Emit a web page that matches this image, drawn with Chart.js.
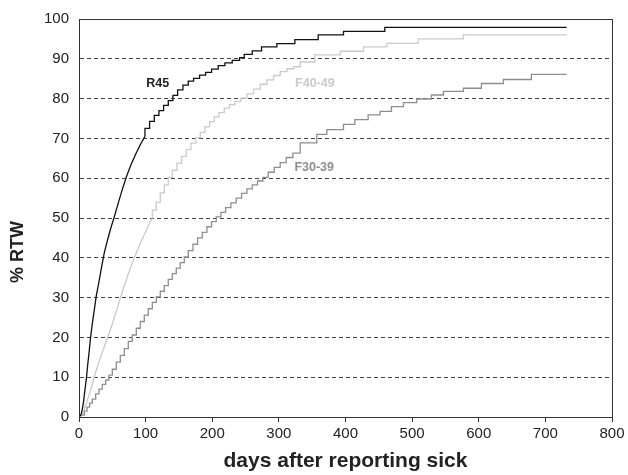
<!DOCTYPE html>
<html>
<head>
<meta charset="utf-8">
<script src="https://cdn.jsdelivr.net/npm/chart.js@4"></script>
<style>
  body { margin: 0; background: #fff; }
  #wrap { width: 628px; height: 475px; }
</style>
</head>
<body>
<div id="wrap"><canvas id="rtwChart" width="628" height="475"></canvas></div>
<script>
"use strict";

// cumulative % return to work (Kaplan-Meier style steps)
const seriesNames = ["R45", "F40-49", "F30-39"];

const r45Days = [0,3,5,7,9,11,13,15,17,20,23,26,30,34,38,43,48,53,59,65,71,78,85,92,99,106,113,120,127,134,141,148,156,164,172,181,190,199,209,219,230,241,248,260,274,297,324,359,397,459,582,732];
const r45Pct = [0,0.5,2,4,7,9.5,13,16,19.5,23.5,27,30.5,34,37.8,41.3,44.6,47.6,50.3,53.8,57.2,60.3,63.4,66,68.4,70.5,72.5,74.3,75.8,77,78.3,79.5,80.8,82.2,83.4,84.4,85.1,85.9,86.6,87.4,88.3,89,89.6,90.3,91.1,92,93,93.8,94.8,96,96.9,97.9,97.9];

const f4049Days = [0,4,7,10,13,16,19,22,26,30,34,38,42,46,50,54,58,62,66,70,74,78,83,88,93,98,104,110,116,122,128,134,140,147,154,161,168,175,182,189,196,203,210,218,226,234,243,252,262,272,282,292,302,312,322,332,354,392,427,462,509,577,664,732];
const f4049Pct = [0,0.5,1.5,3,4.5,6,7.6,9.6,11.8,13.8,15.8,17.7,19.6,21.4,23.4,25.5,27.6,29.8,31.9,34,36,37.8,40,42,44,45.8,48,50,52,54,56.3,58.3,60.2,62,63.8,65.5,67.2,68.8,70.2,71.5,72.9,74.2,75.4,76.5,77.6,78.5,79.3,80.1,81.2,82.4,83.6,84.7,85.8,86.8,87.5,88,89.2,91,91.9,93,93.9,95,96,96];

const f3039Days = [0,8,12,16,20,25,30,35,40,45,50,56,62,68,74,80,86,92,98,104,110,116,122,128,134,140,146,152,158,164,171,178,185,192,199,206,213,220,228,236,244,252,260,268,276,284,293,302,311,321,332,357,372,397,414,434,452,469,487,507,529,547,577,604,637,679,704,732];
const f3039Pct = [0,0.5,1.5,2.5,3.5,4.5,5.8,7,8.2,9.3,10.5,12,13.8,15.5,17.2,19,20.6,22.3,24,25.6,27.2,28.8,30.2,31.6,33,34.6,36,37.4,38.8,40.2,41.8,43.4,45,46.4,47.8,49.1,50.3,51.4,52.6,53.8,55,56.2,57.3,58.3,59.3,60.2,61.5,62.7,63.9,65.2,66.3,68.9,71,72.2,73.5,74.7,75.9,76.8,78,79,79.9,80.9,81.8,82.6,83.8,84.8,86.1,86.1];

// early on the steps are too fine to see, so that part is drawn as a plain line
const fineUntil = [99, 110, 0];

// where the curve names sit (day, %)
const labelAt = [[118, 83.8], [354, 83.8], [353, 62.6]];

const colors = ["#111111", "#cacaca", "#8e8e8e"];
const FONT = "'Liberation Sans', Arial, sans-serif";

const toPoints = (xs, ys) => xs.map((x, i) => ({ x, y: ys[i] }));

const curves = [
  toPoints(r45Days, r45Pct),
  toPoints(f4049Days, f4049Pct),
  toPoints(f3039Days, f3039Pct)
];

const datasets = [];
curves.forEach((pts, i) => {
  const base = { borderColor: colors[i], borderWidth: 1.3, pointRadius: 0, fill: false };
  if (fineUntil[i] > 0) {
    datasets.push({ ...base, label: seriesNames[i], data: pts.filter(p => p.x <= fineUntil[i]), stepped: false });
  }
  datasets.push({ ...base, label: seriesNames[i], data: pts.filter(p => p.x >= fineUntil[i]), stepped: "after" });
});

const curveLabels = {
  id: "curveLabels",
  afterDatasetsDraw(chart) {
    const { ctx, scales: { x, y } } = chart;
    ctx.save();
    ctx.font = "bold 12.5px " + FONT;
    ctx.textAlign = "center";
    ctx.textBaseline = "middle";
    seriesNames.forEach((name, i) => {
      ctx.fillStyle = i === 0 ? "#222" : colors[i];
      ctx.fillText(name, x.getPixelForValue(labelAt[i][0]), y.getPixelForValue(labelAt[i][1]));
    });
    ctx.restore();
  }
};

// box round the plot area and the y title, which sits below the middle
const frame = {
  id: "frame",
  afterDraw(chart) {
    const { ctx, chartArea: a } = chart;
    ctx.save();
    ctx.strokeStyle = "#333";
    ctx.lineWidth = 1;
    ctx.strokeRect(Math.round(a.left) + 0.5, Math.round(a.top) + 0.5, Math.round(a.right - a.left), Math.round(a.bottom - a.top));
    ctx.translate(18, 252);
    ctx.rotate(-Math.PI / 2);
    ctx.font = "bold 18px " + FONT;
    ctx.fillStyle = "#222";
    ctx.textAlign = "center";
    ctx.textBaseline = "middle";
    ctx.fillText("% RTW", 0, 0);
    ctx.restore();
  }
};

new Chart(document.getElementById("rtwChart"), {
  type: "line",
  data: { datasets },
  options: {
    responsive: false,
    animation: false,
    layout: { padding: { top: 15, right: 16, left: 0, bottom: 0 } },
    plugins: { legend: { display: false }, tooltip: { enabled: false } },
    scales: {
      x: {
        type: "linear",
        min: 0,
        max: 800,
        ticks: { stepSize: 100, color: "#222", padding: 3, font: { family: FONT, size: 15 } },
        grid: { drawOnChartArea: false, drawTicks: true, tickLength: 5, color: "#333" },
        border: { color: "#333" },
        title: { display: true, text: "days after reporting sick", color: "#222", padding: { top: 1, bottom: 1 }, font: { family: FONT, size: 21, weight: "bold" } },
        afterFit(scale) { scale.height = 58; }
      },
      y: {
        min: 0,
        max: 100,
        ticks: { stepSize: 10, color: "#222", padding: 10, font: { family: FONT, size: 15 } },
        grid: {
          drawTicks: false,
          color: ctx => (ctx.tick && (ctx.tick.value === 0 || ctx.tick.value === 100)) ? "rgba(0,0,0,0)" : "#444"
        },
        border: { color: "#333", dash: [4, 3] },
        afterFit(scale) { scale.width = 79; }
      }
    }
  },
  plugins: [curveLabels, frame]
});
</script>
</body>
</html>
